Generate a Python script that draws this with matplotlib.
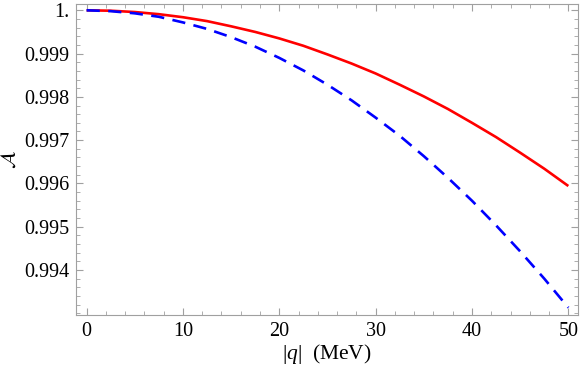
import matplotlib
matplotlib.use('Agg')
import matplotlib.pyplot as plt
from matplotlib.ticker import MultipleLocator, FixedLocator

plt.rcParams['font.family'] = 'Liberation Serif'
plt.rcParams['mathtext.fontset'] = 'custom'
plt.rcParams['mathtext.rm'] = 'Liberation Serif'
plt.rcParams['mathtext.it'] = 'Liberation Serif:italic'

# values
q_mev = [0, 2.5, 5, 7.5, 10, 12.5, 15, 17.5, 20, 22.5, 25,
         27.5, 30, 32.5, 35, 37.5, 40, 42.5, 45, 47.5, 50]
a_red = [1.00000, 0.99999, 0.99996, 0.99991, 0.99984, 0.99975, 0.99963,
         0.99950, 0.99935, 0.99918, 0.99898, 0.99877, 0.99854, 0.99828,
         0.99801, 0.99772, 0.99740, 0.99707, 0.99671, 0.99634, 0.99594]
a_blue = [1.00000, 0.99998, 0.99993, 0.99985, 0.99972, 0.99957, 0.99938,
          0.99916, 0.99890, 0.99861, 0.99828, 0.99792, 0.99752, 0.99710,
          0.99663, 0.99613, 0.99560, 0.99503, 0.99443, 0.99380, 0.99313]
y_ticks = [0.994, 0.995, 0.996, 0.997, 0.998, 0.999, 1.0]
y_labels = ['0.994', '0.995', '0.996', '0.997', '0.998', '0.999', '1.']

fig = plt.figure(figsize=(5.81, 3.65), dpi=100)
ax = fig.add_axes([0.1308, 0.137, 0.8640, 0.852])

ax.plot(q_mev, a_red, color='#ff0000', lw=1.9, solid_capstyle='butt')
ax.plot(q_mev, a_blue, color='#0000ff', lw=1.9, dashes=(5, 3.2))

ax.set_xlim(-1.1, 51.0)
ax.set_ylim(0.99296, 1.000145)

ax.xaxis.set_major_locator(MultipleLocator(10))
ax.xaxis.set_minor_locator(MultipleLocator(2))
ax.yaxis.set_major_locator(FixedLocator(y_ticks))
ax.yaxis.set_minor_locator(MultipleLocator(0.0002))
ax.set_yticklabels(y_labels)

for s in ax.spines.values():
    s.set_color('#a0a0a0')
    s.set_linewidth(0.8)
ax.tick_params(which='both', direction='in', top=True, right=True,
               color='#a0a0a0', labelsize=14.5, labelcolor='black')
ax.tick_params(which='major', length=5, width=0.8, pad=5)
ax.tick_params(which='minor', length=2.8, width=0.6)

ax.set_xlabel(r'$|q|$  (MeV)', fontsize=15.5, labelpad=1)
ax.set_ylabel(r'$\mathcal{A}$', fontsize=15, labelpad=3, math_fontfamily='stix')

fig.savefig('out.png', dpi=100)
